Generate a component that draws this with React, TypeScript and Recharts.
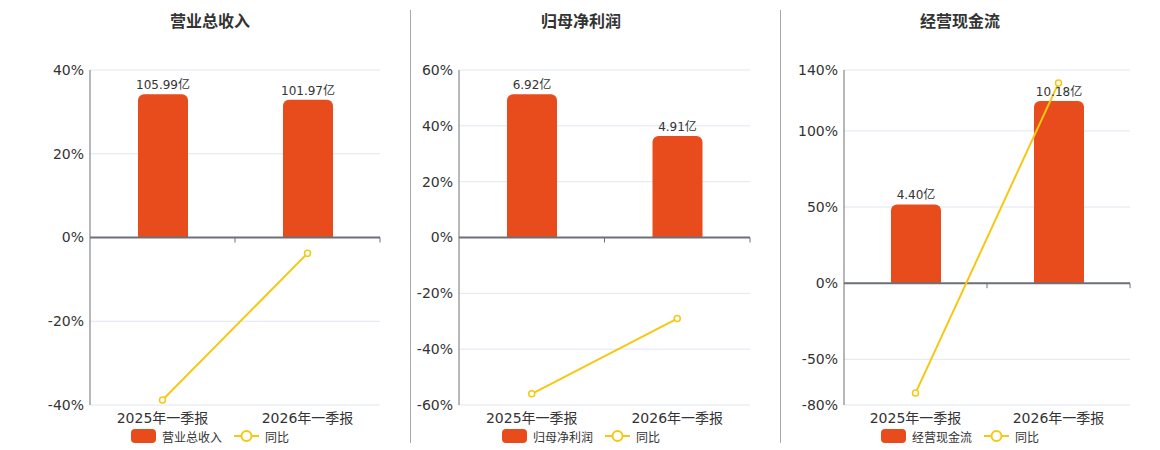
import React from 'react';
import {
  ComposedChart,
  Bar,
  Line,
  XAxis,
  YAxis,
  CartesianGrid,
  ReferenceLine,
} from 'recharts';

// ---- data ----
const categories = ['2025年一季报', '2026年一季报'];

const revenueValues = [105.99, 101.97];
const revenueYoY = [-38.8, -3.79];
const revenueTicks = [-40, -20, 0, 20, 40];

const profitValues = [6.92, 4.91];
const profitYoY = [-56.0, -29.05];
const profitTicks = [-60, -40, -20, 0, 20, 40, 60];

const cashValues = [4.4, 10.18];
const cashYoY = [-72.2, 131.4];
const cashTicks = [-80, -50, 0, 50, 100, 140];

const titles = ['营业总收入', '归母净利润', '经营现金流'];
const yoyName = '同比';

// ---- styles ----
const BAR_COLOR = '#e84c1d';
const LINE_COLOR = '#f5c814';
const AXIS_COLOR = '#6e7079';
const GRID_COLOR = '#e0e6f1';
const TEXT_COLOR = '#333';
const FONT = '"DejaVu Sans", "Noto Sans CJK SC", sans-serif';

type PanelProps = {
  title: string;
  values: number[];
  yoy: number[];
  ticks: number[];
  left: number;
  width: number;
  yAxisWidth: number;
  marginRight: number;
  center: number;
};

const CHART_HEIGHT = 427;

function ZeroTicks(props: any) {
  const vb = props.viewBox || {};
  const x = vb.x ?? 0;
  const y = vb.y ?? 0;
  const w = vb.width ?? 0;
  const n = categories.length;
  const marks = [];
  for (let i = 1; i <= n; i++) {
    const xx = x + (w * i) / n;
    marks.push(
      <line key={i} x1={xx} x2={xx} y1={y} y2={y + 5} stroke={AXIS_COLOR} strokeWidth={1} />
    );
  }
  return <g>{marks}</g>;
}

function Panel(p: PanelProps) {
  const data = categories.map((c, i) => ({ category: c, value: p.values[i], yoy: p.yoy[i] }));
  const pctMin = p.ticks[0];
  const pctMax = p.ticks[p.ticks.length - 1];
  const barTop = Math.max(...p.values) / 0.855;
  const barDomain = [(barTop * pctMin) / pctMax, barTop];

  return (
    <>
      <div
        style={{
          position: 'absolute',
          left: p.center - 100,
          width: 200,
          top: 4,
          lineHeight: '20px',
          textAlign: 'center',
          fontWeight: 'bold',
          fontSize: 16,
          color: TEXT_COLOR,
        }}
      >
        {p.title}
      </div>
      <div style={{ position: 'absolute', left: p.left, top: 0 }}>
        <ComposedChart
          width={p.width}
          height={CHART_HEIGHT}
          data={data}
          margin={{ top: 62, right: p.marginRight, bottom: 0, left: 0 }}
        >
          <CartesianGrid yAxisId="pct" vertical={false} stroke={GRID_COLOR} />
          <XAxis
            dataKey="category"
            axisLine={false}
            tickLine={false}
            height={30}
            tick={{ fontSize: 14, fill: TEXT_COLOR }}
            interval={0}
          />
          <YAxis
            yAxisId="pct"
            width={p.yAxisWidth}
            domain={[pctMin, pctMax]}
            ticks={p.ticks}
            interval={0}
            tickFormatter={(v: number) => `${v}%`}
            axisLine={{ stroke: AXIS_COLOR }}
            tickLine={false}
            tickSize={4}
            tickMargin={2}
            tick={{ fontSize: 14, fill: TEXT_COLOR }}
          />
          <YAxis yAxisId="bar" orientation="right" hide domain={barDomain} />
          <Bar
            yAxisId="bar"
            dataKey="value"
            fill={BAR_COLOR}
            barSize={50}
            radius={[6, 6, 0, 0]}
            isAnimationActive={false}
            label={{
              position: 'top',
              fontSize: 12,
              fill: TEXT_COLOR,
              formatter: (v: number) => `${Number(v).toFixed(2)}亿`,
            }}
          />
          <ReferenceLine
            yAxisId="pct"
            y={0}
            stroke={AXIS_COLOR}
            strokeWidth={2}
            label={<ZeroTicks />}
          />
          <Line
            yAxisId="pct"
            dataKey="yoy"
            stroke={LINE_COLOR}
            strokeWidth={2}
            dot={{ r: 3, fill: '#fff', stroke: LINE_COLOR, strokeWidth: 1.5 }}
            isAnimationActive={false}
          />
        </ComposedChart>
      </div>
      <div
        style={{
          position: 'absolute',
          left: p.center - 120,
          width: 240,
          top: 421,
          height: 14,
          display: 'flex',
          justifyContent: 'center',
          alignItems: 'center',
          fontSize: 12,
          color: TEXT_COLOR,
        }}
      >
        <span
          style={{
            display: 'inline-block',
            width: 25,
            height: 14,
            borderRadius: 4,
            background: BAR_COLOR,
          }}
        />
        <span style={{ marginLeft: 6 }}>{p.title}</span>
        <svg width={25} height={14} style={{ marginLeft: 12 }}>
          <line x1={0} x2={25} y1={7} y2={7} stroke={LINE_COLOR} strokeWidth={2} />
          <circle cx={12.5} cy={7} r={5} fill="#fff" stroke={LINE_COLOR} strokeWidth={2} />
        </svg>
        <span style={{ marginLeft: 6 }}>{yoyName}</span>
      </div>
    </>
  );
}

export default function App() {
  return (
    <div
      style={{
        position: 'relative',
        width: 1144,
        height: 442,
        fontFamily: FONT,
        background: '#fff',
      }}
    >
      <Panel
        title={titles[0]}
        values={revenueValues}
        yoy={revenueYoY}
        ticks={revenueTicks}
        left={0}
        width={392}
        yAxisWidth={82}
        marginRight={20}
        center={202}
      />
      <div style={{ position: 'absolute', left: 402, top: 2, width: 1, height: 433, background: '#a8a8a8' }} />
      <Panel
        title={titles[1]}
        values={profitValues}
        yoy={profitYoY}
        ticks={profitTicks}
        left={403}
        width={360}
        yAxisWidth={48}
        marginRight={21}
        center={573}
      />
      <div style={{ position: 'absolute', left: 772, top: 2, width: 1, height: 433, background: '#a8a8a8' }} />
      <Panel
        title={titles[2]}
        values={cashValues}
        yoy={cashYoY}
        ticks={cashTicks}
        left={773}
        width={370}
        yAxisWidth={63}
        marginRight={21}
        center={952}
      />
    </div>
  );
}
